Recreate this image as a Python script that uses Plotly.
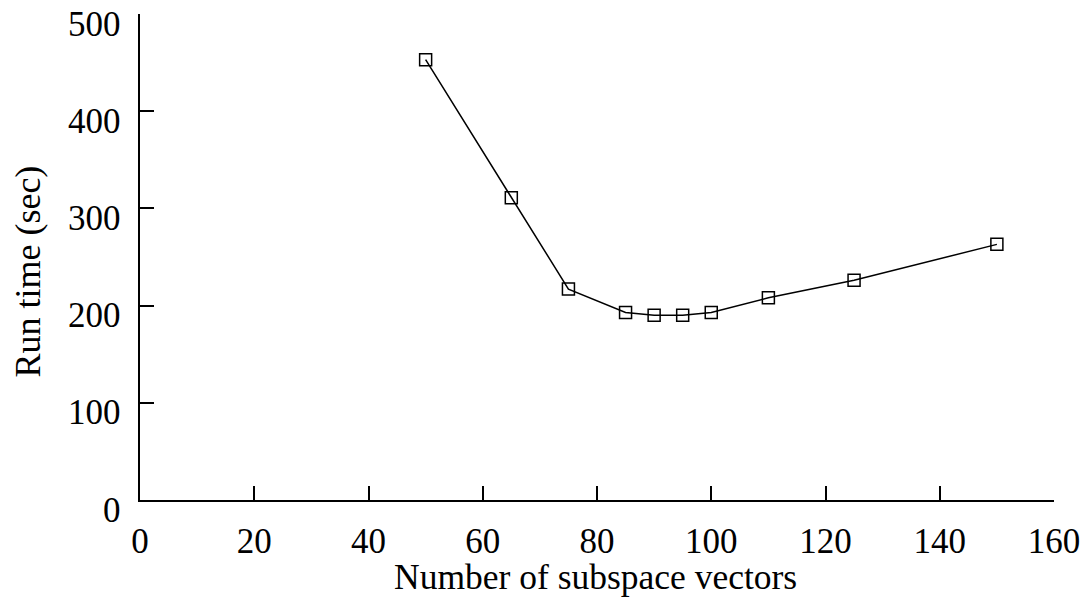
import plotly.graph_objects as go

# Run time measured against the number of subspace vectors
subspace_vectors = [50, 65, 75, 85, 90, 95, 100, 110, 125, 150]
run_time_sec = [453, 311, 217, 193, 190, 190, 193, 208, 226, 263]

x_ticks = [0, 20, 40, 60, 80, 100, 120, 140, 160]
y_ticks = [0, 100, 200, 300, 400, 500]

FONT = "Liberation Serif"
TICK_FONT = dict(family=FONT, size=35, color="black")

fig = go.Figure()
fig.add_trace(go.Scatter(
    x=subspace_vectors,
    y=run_time_sec,
    mode="lines+markers",
    line=dict(color="black", width=1.5),
    marker=dict(symbol="square-open", size=12, color="black",
                line=dict(color="black", width=1.5)),
    showlegend=False,
))

axis_common = dict(
    showgrid=False,
    zeroline=False,
    showline=True,
    linecolor="black",
    linewidth=1.5,
    ticks="inside",
    ticklen=14,
    tickwidth=1.5,
    tickcolor="black",
    automargin=False,
    tickfont=TICK_FONT,
)

fig.update_xaxes(range=[0, 160], tickvals=x_ticks, ticklabelstandoff=9, **axis_common)
# y tick labels sit a little below their ticks, so they are placed as annotations
fig.update_yaxes(range=[0, 500], tickvals=y_ticks, showticklabels=False, **axis_common)

annotations = [
    dict(text=str(v), xref="paper", yref="y", x=0, y=v,
         xanchor="right", yanchor="middle", xshift=-17, yshift=-10,
         showarrow=False, font=TICK_FONT)
    for v in y_ticks
]
annotations += [
    dict(text="Number of subspace vectors", xref="paper", yref="paper",
         x=0.498, y=-0.158, xanchor="center", yanchor="middle",
         showarrow=False, font=dict(family=FONT, size=35.5, color="black")),
    dict(text="Run time (sec)", xref="paper", yref="paper",
         x=-0.122, y=0.471, xanchor="center", yanchor="middle", textangle=-90,
         showarrow=False, font=dict(family=FONT, size=36, color="black")),
]

fig.update_layout(
    width=1086,
    height=598,
    margin=dict(l=139.5, r=32, t=13.5, b=97.5, autoexpand=False),
    plot_bgcolor="white",
    paper_bgcolor="white",
    font=dict(family=FONT, color="black"),
    annotations=annotations,
)

fig.write_html("out.html")
